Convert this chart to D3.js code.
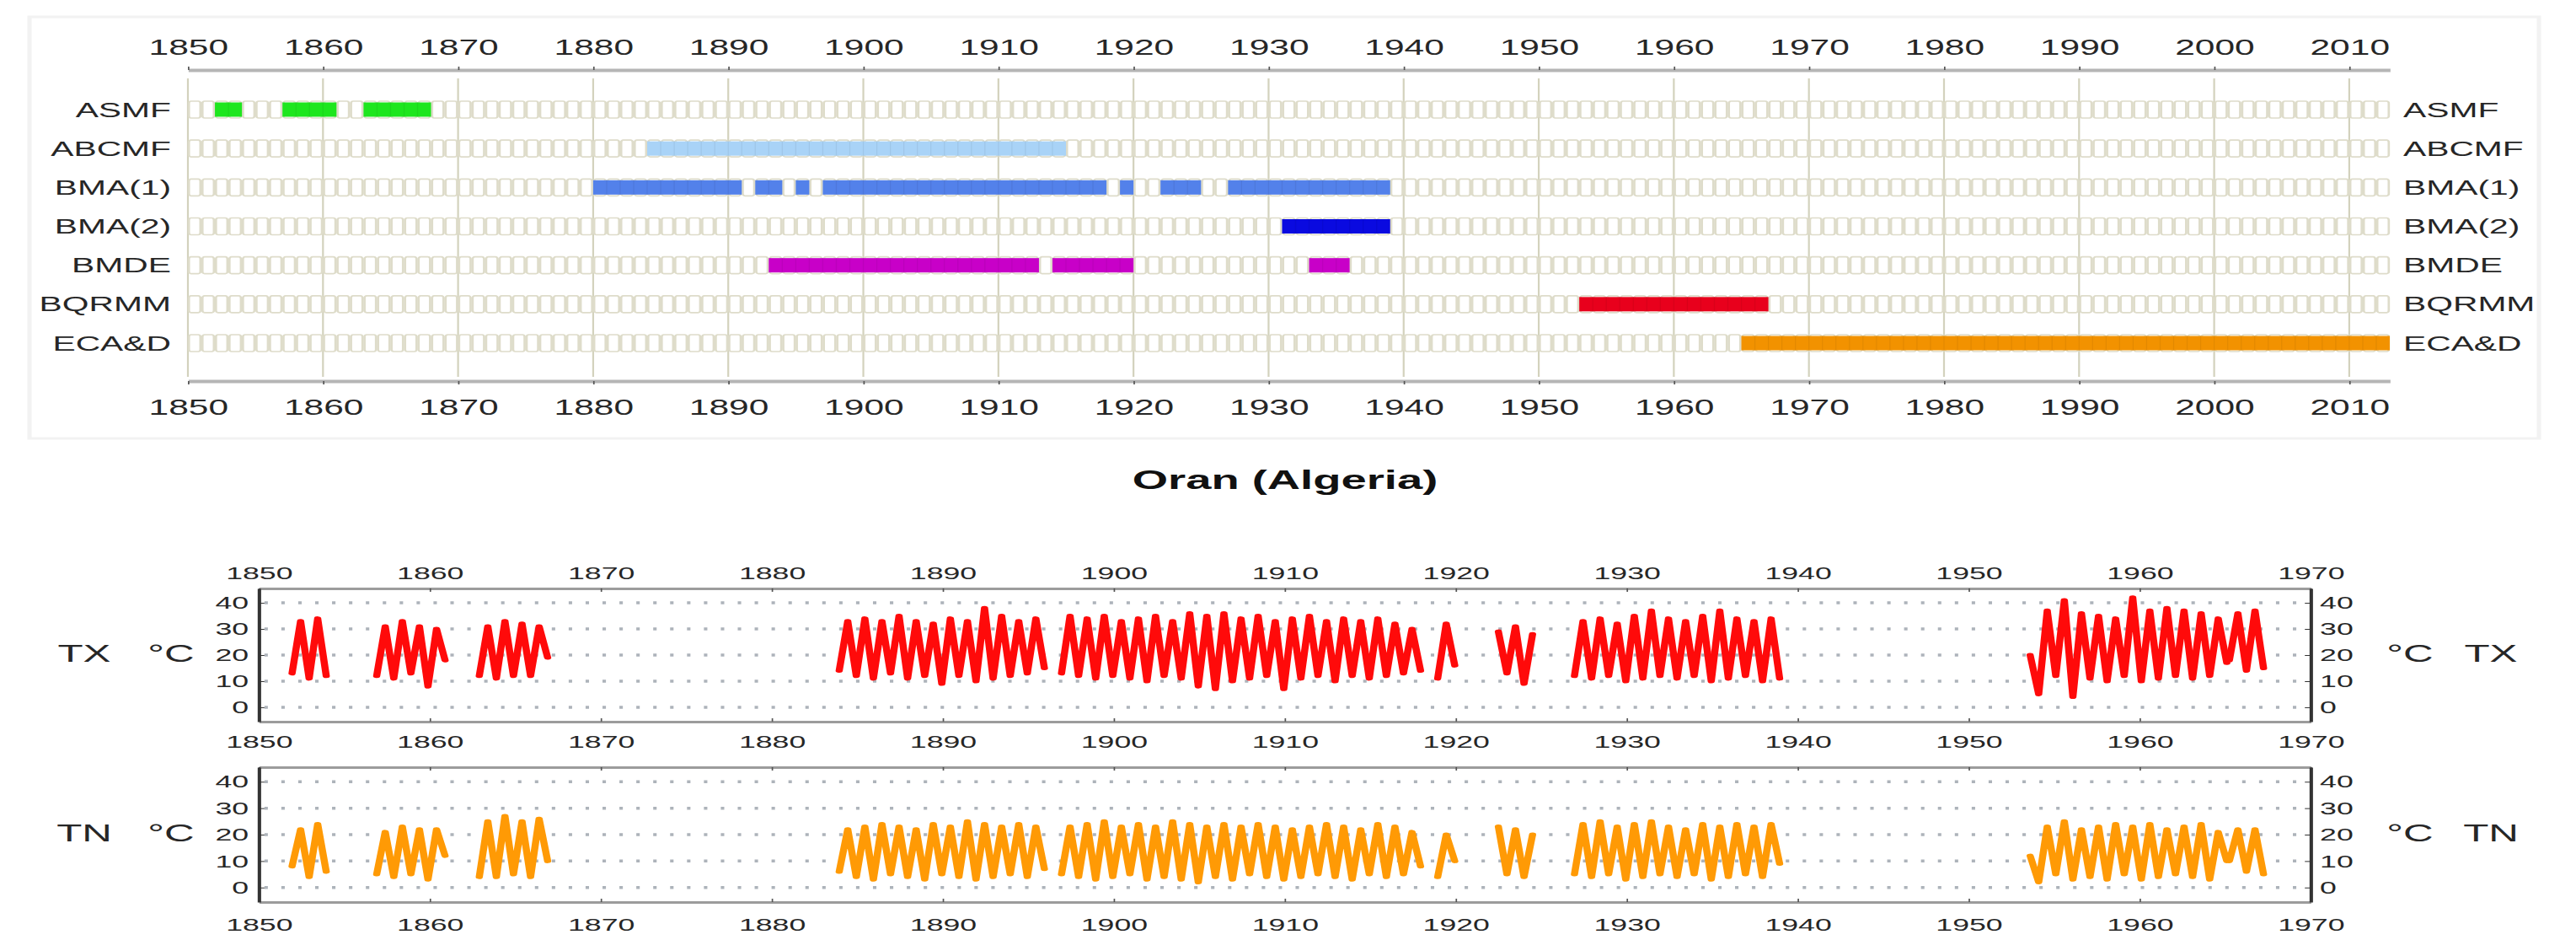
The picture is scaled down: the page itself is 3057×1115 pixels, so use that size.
<!DOCTYPE html>
<html>
<head>
<meta charset="utf-8">
<script src="https://cdn.jsdelivr.net/npm/d3@7"></script>
<style>
html, body { margin: 0; padding: 0; background: #fff; }
svg { display: block; }
text { font-family: "Liberation Sans", Arial, Helvetica, sans-serif; fill: #262626; }
</style>
</head>
<body>
<script>
const W = 3057, H = 1115
const SX = 1.7   // the original picture is stretched sideways, so we draw narrow and stretch
const w = W / SX

// ---- data ----
const sources = ['ASMF', 'ABCMF', 'BMA(1)', 'BMA(2)', 'BMDE', 'BQRMM', 'ECA&D']
const sourceColors = ['#1ee61e', '#a9d3f7', '#5381ea', '#0a0ae0', '#c800c8', '#e8001c', '#f29200']
// years covered by each source, [first, last] inclusive
const coverage = [
  [[1852, 1853], [1857, 1860], [1863, 1867]],
  [[1884, 1914]],
  [[1880, 1890], [1892, 1893], [1895, 1895], [1897, 1917], [1919, 1919], [1922, 1924], [1927, 1938]],
  [[1931, 1938]],
  [[1893, 1912], [1914, 1919], [1933, 1935]],
  [[1953, 1966]],
  [[1965, 2012]]
]
const topYears = [1850, 1860, 1870, 1880, 1890, 1900, 1910, 1920, 1930, 1940, 1950, 1960, 1970, 1980, 1990, 2000, 2010]
const panelYears = [1850, 1860, 1870, 1880, 1890, 1900, 1910, 1920, 1930, 1940, 1950, 1960, 1970]
const tempTicks = [0, 10, 20, 30, 40]

// seasonal extremes (winter low / summer high), one value every half year from each start
const runStarts = [1851.95, 1856.9, 1862.9, 1883.95, 1896.95, 1918.95, 1922.5, 1926.95, 1953.6, 1965.25]
const txRuns = [
  [13, 33, 11, 34, 12],
  [12, 31, 11, 33, 13, 31, 8, 30, 18],
  [12, 31, 11, 33, 12, 32, 12, 31, 19],
  [14, 33, 12, 34, 11, 33, 13, 35, 11, 33, 12, 32, 9, 34, 12, 33, 10, 38, 11, 35, 12, 33, 13, 34, 15],
  [13, 35, 12, 34, 11, 35, 12, 33, 11, 34, 10, 35, 12, 33, 11, 36, 8, 35, 7, 36, 10, 34, 11, 35, 12, 33, 7, 34, 11, 35, 12, 33, 10, 34, 12, 33, 11, 34, 12, 32, 13, 30, 14],
  [11, 32, 16],
  [29, 13, 31, 9, 28],
  [12, 33, 11, 34, 12, 32, 10, 35, 11, 37, 12, 34, 11, 33, 12, 35, 10, 37, 11, 34, 12, 33, 10, 34, 11],
  [20, 5, 37, 12, 41, 4, 36, 11, 35, 10, 34, 12, 42, 10, 37, 11, 38, 12, 37, 11, 36, 12, 34, 17],
  [18, 36, 14, 37, 15]
]
const tnRuns = [
  [8, 22, 4, 24, 6],
  [5, 21, 4, 23, 5, 22, 3, 22, 12],
  [4, 25, 4, 27, 5, 25, 4, 26, 10],
  [6, 22, 4, 23, 3, 24, 5, 23, 4, 22, 3, 24, 5, 23, 4, 25, 3, 24, 4, 23, 5, 24, 4, 23, 7],
  [5, 23, 4, 24, 3, 25, 4, 23, 5, 24, 3, 23, 4, 25, 3, 24, 2, 23, 4, 24, 3, 23, 5, 24, 4, 23, 3, 22, 4, 23, 5, 24, 4, 23, 3, 22, 5, 24, 4, 23, 5, 21, 8],
  [4, 20, 10],
  [23, 5, 22, 4, 20],
  [5, 24, 4, 25, 5, 23, 3, 24, 4, 25, 5, 23, 4, 22, 5, 24, 3, 23, 4, 24, 5, 23, 4, 24, 9],
  [12, 2, 23, 5, 25, 3, 22, 4, 23, 3, 24, 5, 23, 3, 24, 4, 22, 5, 23, 4, 24, 3, 21, 10],
  [10, 22, 6, 22, 5]
]

const svg = d3.select('body').append('svg')
  .attr('width', W).attr('height', H)
  .attr('viewBox', `0 0 ${w} ${H}`)
  .attr('preserveAspectRatio', 'none')

// faint frame round the coverage chart
svg.append('rect')
  .attr('x', 35 / SX).attr('y', 20)
  .attr('width', (3013 - 35) / SX).attr('height', 500)
  .attr('fill', 'none').attr('stroke', '#f2f2f2').attr('stroke-width', 3)

// ---- coverage chart ----
const xTop = d3.scaleLinear().domain([1850, 2013]).range([223 / SX, 2836 / SX])
const yRow = d3.scalePoint().domain(sources).range([130, 407])
const cellW = xTop(1851) - xTop(1850)
const allYears = d3.range(1850, 2013)

const cov = svg.append('g')

cov.append('g').selectAll('line')
  .data(topYears).join('line')
  .attr('x1', d => xTop(d)).attr('x2', d => xTop(d))
  .attr('y1', 93).attr('y2', 447)
  .attr('stroke', '#d3d2bd').attr('stroke-width', 1.3)

sources.forEach((s, i) => {
  const cy = yRow(s)
  const row = cov.append('g')
  row.selectAll('rect.cell')
    .data(allYears).join('rect')
    .attr('class', 'cell')
    .attr('x', d => xTop(d) + 0.7)
    .attr('width', cellW - 1.4)
    .attr('y', cy - 10).attr('height', 20)
    .attr('rx', 1.5).attr('ry', 2.5)
    .attr('fill', 'none')
    .attr('stroke', '#dedcca').attr('stroke-width', 1.6)

  const col = sourceColors[i]
  coverage[i].forEach(([a, b]) => {
    row.append('rect')
      .attr('x', xTop(a)).attr('width', xTop(b + 1) - xTop(a))
      .attr('y', cy - 8.5).attr('height', 17)
      .attr('fill', col)
    row.append('g').selectAll('line')
      .data(d3.range(a + 1, b + 1)).join('line')
      .attr('x1', d => xTop(d)).attr('x2', d => xTop(d))
      .attr('y1', cy - 8.5).attr('y2', cy + 8.5)
      .attr('stroke', d3.color(col).darker(0.8)).attr('stroke-opacity', 0.25).attr('stroke-width', 0.7)
  })

  cov.append('text').attr('x', 203 / SX).attr('y', cy + 8.6)
    .attr('text-anchor', 'end').attr('font-size', 24).text(s)
  cov.append('text').attr('x', 2852 / SX).attr('y', cy + 8.6)
    .attr('text-anchor', 'start').attr('font-size', 24).text(s)
})

function styleAxis(g, textY, size, lineCol, lineW) {
  g.select('.domain').attr('stroke', lineCol).attr('stroke-width', lineW)
  g.selectAll('.tick line').attr('stroke', '#555').attr('stroke-width', 1)
  g.selectAll('.tick text').attr('y', textY).attr('dy', null).attr('font-size', size)
}

cov.append('g').attr('transform', 'translate(0,83)')
  .call(d3.axisTop(xTop).tickValues(topYears).tickFormat(d3.format('d')).tickSize(4).tickSizeOuter(0))
  .call(g => styleAxis(g, -18, 25, '#b5b5b5', 4))
cov.append('g').attr('transform', 'translate(0,452)')
  .call(d3.axisBottom(xTop).tickValues(topYears).tickFormat(d3.format('d')).tickSize(4).tickSizeOuter(0))
  .call(g => styleAxis(g, 40, 25, '#b5b5b5', 4))

// ---- title ----
svg.append('text').attr('x', 1525 / SX).attr('y', 580)
  .attr('text-anchor', 'middle').attr('font-size', 32).attr('font-weight', 'bold')
  .style('fill', '#111').text('Oran (Algeria)')

// ---- temperature panels ----
const xP = d3.scaleLinear().domain([1850, 1970]).range([307 / SX, 2742 / SX])

function panel(name, runs, color, yTop, yBot, labelTop, labelBottom, labelCenter) {
  const y = d3.scaleLinear().domain([-5.5, 45.5]).range([yBot, yTop])
  const g = svg.append('g')

  g.append('g').selectAll('line')
    .data(tempTicks).join('line')
    .attr('x1', xP.range()[0] + 4).attr('x2', xP.range()[1] - 2)
    .attr('y1', d => y(d)).attr('y2', d => y(d))
    .attr('stroke', '#adb3ba').attr('stroke-width', 3.5)
    .attr('stroke-dasharray', '2.4 9.4')

  const line = d3.line().x(d => xP(d[0])).y(d => y(d[1]))
  g.append('g').selectAll('path')
    .data(runs.map((vals, i) => vals.map((v, k) => [runStarts[i] + 0.5 * k, v])))
    .join('path')
    .attr('d', line)
    .attr('fill', 'none').attr('stroke', color)
    .attr('stroke-width', 5).attr('stroke-linejoin', 'round').attr('stroke-linecap', 'round')

  const fmt = d3.format('d')
  g.append('g').attr('transform', `translate(0,${yTop})`)
    .call(d3.axisTop(xP).tickValues(panelYears).tickFormat(labelTop ? fmt : () => '').tickSize(-4).tickSizeOuter(0))
    .call(a => styleAxis(a, labelTop ? -11 : 0, 21, '#9c9c9c', 2.8))
  g.append('g').attr('transform', `translate(0,${yBot})`)
    .call(d3.axisBottom(xP).tickValues(panelYears).tickFormat(fmt).tickSize(-4).tickSizeOuter(0))
    .call(a => styleAxis(a, labelBottom, 21, '#9c9c9c', 2.8))

  g.append('g').attr('transform', `translate(${xP.range()[0]},0)`)
    .call(d3.axisLeft(y).tickValues(tempTicks).tickSize(-4).tickSizeOuter(0).tickPadding(7))
    .call(a => {
      a.select('.domain').attr('stroke', '#333').attr('stroke-width', 2.4)
      a.selectAll('.tick line').attr('stroke', '#333')
      a.selectAll('.tick text').attr('font-size', 21)
    })
  g.append('g').attr('transform', `translate(${xP.range()[1]},0)`)
    .call(d3.axisRight(y).tickValues(tempTicks).tickSize(-4).tickSizeOuter(0).tickPadding(6.5))
    .call(a => {
      a.select('.domain').attr('stroke', '#333').attr('stroke-width', 2.4)
      a.selectAll('.tick line').attr('stroke', '#333')
      a.selectAll('.tick text').attr('font-size', 21)
    })

  const by = labelCenter + 10
  g.append('text').attr('x', 100 / SX).attr('y', by).attr('text-anchor', 'middle').attr('font-size', 29).text(name)
  g.append('text').attr('x', 203 / SX).attr('y', by).attr('text-anchor', 'middle').attr('font-size', 29).text('°C')
  g.append('text').attr('x', 2860 / SX).attr('y', by).attr('text-anchor', 'middle').attr('font-size', 29).text('°C')
  g.append('text').attr('x', 2956 / SX).attr('y', by).attr('text-anchor', 'middle').attr('font-size', 29).text(name)
}

panel('TX', txRuns, '#ff0a0a', 698, 856, true, 31, 775)
panel('TN', tnRuns, '#ff9a05', 910, 1070, false, 34, 988)
</script>
</body>
</html>
